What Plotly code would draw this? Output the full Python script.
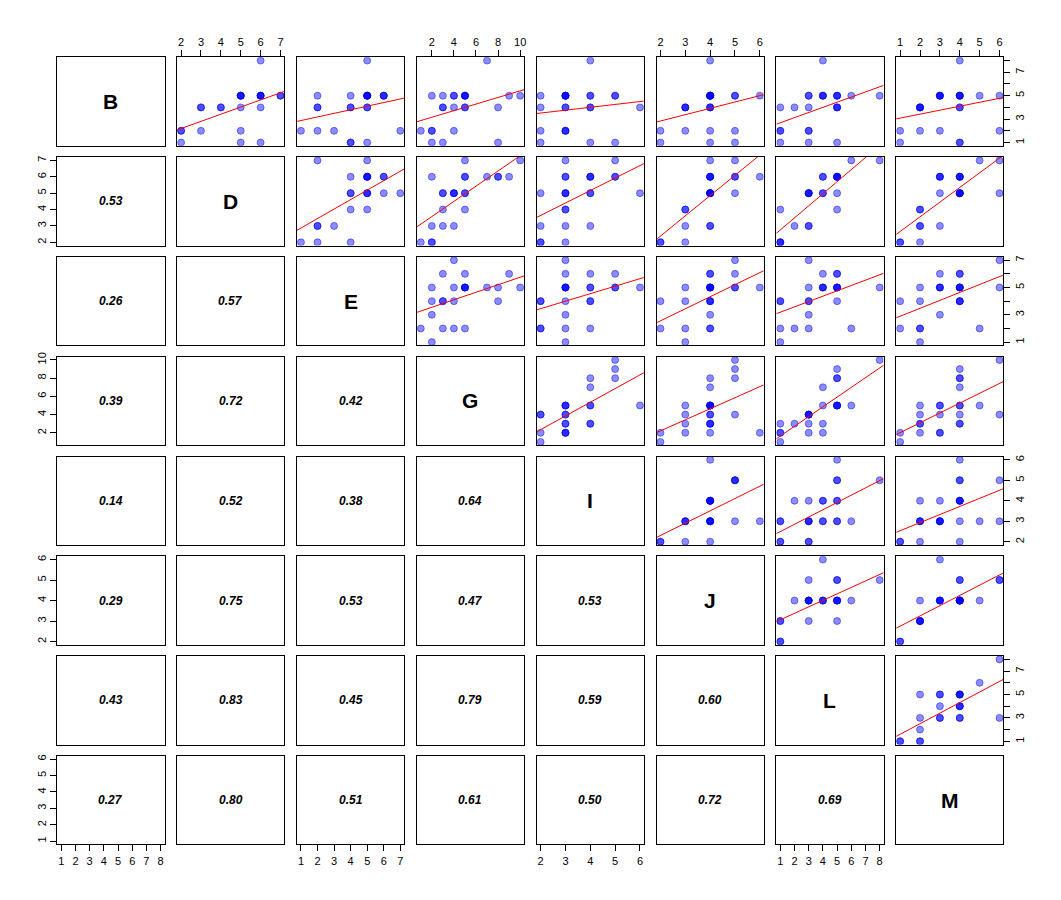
import numpy as np
import plotly.graph_objects as go

names = ['B', 'D', 'E', 'G', 'I', 'J', 'L', 'M']
B = [1, 1, 1, 2, 2, 2, 2, 4, 4, 4, 4, 4, 4, 5, 5, 5, 5, 5, 5, 5, 5, 5, 5, 8]
D = [2, 5, 6, 2, 2, 3, 5, 3, 3, 4, 4, 5, 6, 6, 5, 5, 5, 5, 6, 6, 6, 7, 7, 6]
E = [4, 4, 5, 1, 2, 3, 7, 2, 2, 4, 5, 5, 4, 5, 4, 5, 5, 6, 5, 6, 6, 2, 5, 5]
G = [2, 3, 8, 2, 1, 2, 4, 3, 4, 3, 5, 5, 8, 5, 4, 4, 5, 3, 2, 5, 9, 5, 10, 7]
I = [2, 4, 5, 3, 2, 3, 3, 4, 2, 3, 3, 6, 4, 3, 2, 3, 4, 3, 3, 4, 5, 3, 5, 4]
J = [2, 4, 5, 3, 2, 4, 5, 4, 3, 3, 3, 4, 4, 4, 4, 4, 4, 4, 6, 4, 5, 4, 5, 4]
L = [1, 3, 5, 1, 1, 3, 3, 2, 3, 1, 5, 5, 5, 5, 3, 3, 4, 4, 4, 5, 5, 6, 8, 4]
M = [1, 4, 4, 2, 1, 3, 6, 2, 2, 2, 2, 4, 4, 3, 4, 3, 4, 4, 3, 3, 4, 5, 6, 4]
columns = [B, D, E, G, I, J, L, M]

# correlation labels shown in the lower panels (row i, columns 0..i-1)
cor_lower = [
    [],
    [0.53],
    [0.26, 0.57],
    [0.39, 0.72, 0.42],
    [0.14, 0.52, 0.38, 0.64],
    [0.29, 0.75, 0.53, 0.47, 0.53],
    [0.43, 0.83, 0.45, 0.79, 0.59, 0.60],
    [0.27, 0.80, 0.51, 0.61, 0.50, 0.72, 0.69],
]

# ---- layout geometry (pixels) ----
W, H = 1061, 900
col_left0, col_pitch, col_w = 57.3, 119.84, 107.3
row_top0, row_pitch, row_h = 57.3, 99.8, 88.5

def rng(v):
    lo, hi = min(v), max(v)
    s = hi - lo
    return [lo - 0.04 * s, hi + 0.04 * s]

ranges = [rng(v) for v in columns]

r18 = list(range(1, 9))
odd_lbl = lambda vals: [str(v) if v % 2 == 1 else '' for v in vals]
bottom_ticks = {0: (r18, [str(v) for v in r18]),
                2: (list(range(1, 8)), [str(v) for v in range(1, 8)]),
                4: (list(range(2, 7)), [str(v) for v in range(2, 7)]),
                6: (r18, [str(v) for v in r18])}
top_ticks = {1: (list(range(2, 8)), [str(v) for v in range(2, 8)]),
             3: ([2, 4, 6, 8, 10], ['2', '4', '6', '8', '10']),
             5: (list(range(2, 7)), [str(v) for v in range(2, 7)]),
             7: (list(range(1, 7)), [str(v) for v in range(1, 7)])}
left_ticks = {1: (list(range(2, 8)), [str(v) for v in range(2, 8)]),
              3: ([2, 4, 6, 8, 10], ['2', '4', '6', '8', '10']),
              5: (list(range(2, 7)), [str(v) for v in range(2, 7)]),
              7: (list(range(1, 7)), [str(v) for v in range(1, 7)])}
right_ticks = {0: (r18, odd_lbl(r18)),
               2: (list(range(1, 8)), odd_lbl(range(1, 8))),
               4: (list(range(2, 7)), [str(v) for v in range(2, 7)]),
               6: (r18, odd_lbl(r18))}

tickfont = dict(family='Liberation Sans, Arial, sans-serif', size=11, color='black')

fig = go.Figure()
layout = {}
annotations = []

for r in range(8):
    for c in range(8):
        k = r * 8 + c + 1
        xname = 'xaxis' if k == 1 else f'xaxis{k}'
        yname = 'yaxis' if k == 1 else f'yaxis{k}'
        xref = 'x' if k == 1 else f'x{k}'
        yref = 'y' if k == 1 else f'y{k}'
        x0 = (col_left0 + c * col_pitch) / W
        x1 = (col_left0 + c * col_pitch + col_w) / W
        y1 = 1 - (row_top0 + r * row_pitch) / H
        y0 = 1 - (row_top0 + r * row_pitch + row_h) / H
        base = dict(showline=True, mirror=True, linecolor='black', linewidth=1,
                    showgrid=False, zeroline=False, ticks='', showticklabels=False,
                    tickfont=tickfont, ticklen=6, tickcolor='black', tickwidth=1,
                    automargin=False)
        xa = dict(base, domain=[x0, x1], anchor=yref, range=ranges[c])
        ya = dict(base, domain=[y0, y1], anchor=xref, range=ranges[r])
        if r == 7 and c in bottom_ticks:
            tv, tt = bottom_ticks[c]
            xa.update(side='bottom', ticks='outside', showticklabels=True, tickvals=tv, ticktext=tt, tickangle=0)
        if r == 0 and c in top_ticks:
            tv, tt = top_ticks[c]
            xa.update(side='top', ticks='outside', showticklabels=True, tickvals=tv, ticktext=tt, tickangle=0)
        if c == 0 and r in left_ticks:
            tv, tt = left_ticks[r]
            ya.update(side='left', ticks='outside', showticklabels=True, tickvals=tv, ticktext=tt, tickangle=-90)
        if c == 7 and r in right_ticks:
            tv, tt = right_ticks[r]
            ya.update(side='right', ticks='outside', showticklabels=True, tickvals=tv, ticktext=tt, tickangle=-90)
        layout[xname] = xa
        layout[yname] = ya

        if r < c:
            xs = np.array(columns[c], float)
            ys = np.array(columns[r], float)
            fig.add_trace(go.Scatter(
                x=xs, y=ys, mode='markers', xaxis=xref, yaxis=yref, showlegend=False,
                hoverinfo='skip',
                marker=dict(size=7, color='rgba(0,0,255,0.45)',
                            line=dict(width=1, color='rgba(0,0,255,0.45)'))))
            slope, icpt = np.polyfit(xs, ys, 1)
            lx = np.array(ranges[c])
            fig.add_trace(go.Scatter(
                x=lx, y=slope * lx + icpt, mode='lines', xaxis=xref, yaxis=yref,
                showlegend=False, hoverinfo='skip', line=dict(color='red', width=1)))
        else:
            # empty trace so that the (text-only) panel is drawn
            fig.add_trace(go.Scatter(x=[None], y=[None], mode='markers', xaxis=xref, yaxis=yref,
                                     showlegend=False, hoverinfo='skip'))
            if r == c:
                annotations.append(dict(
                    text=names[r], x=0.5, y=0.5, xref=f'{xref} domain', yref=f'{yref} domain',
                    showarrow=False, xanchor='center', yanchor='middle',
                    font=dict(family='Liberation Sans, Arial, sans-serif', size=21, color='black', weight='bold')))
            else:
                annotations.append(dict(
                    text='%.2f' % cor_lower[r][c], x=0.5, y=0.5, xref=f'{xref} domain', yref=f'{yref} domain',
                    showarrow=False, xanchor='center', yanchor='middle',
                    font=dict(family='Liberation Sans, Arial, sans-serif', size=12, color='black',
                              weight='bold', style='italic')))

fig.update_layout(**layout)
fig.update_layout(width=W, height=H, margin=dict(l=0, r=0, t=0, b=0),
                  paper_bgcolor='white', plot_bgcolor='white',
                  annotations=annotations, showlegend=False)
fig.write_html("out.html")
